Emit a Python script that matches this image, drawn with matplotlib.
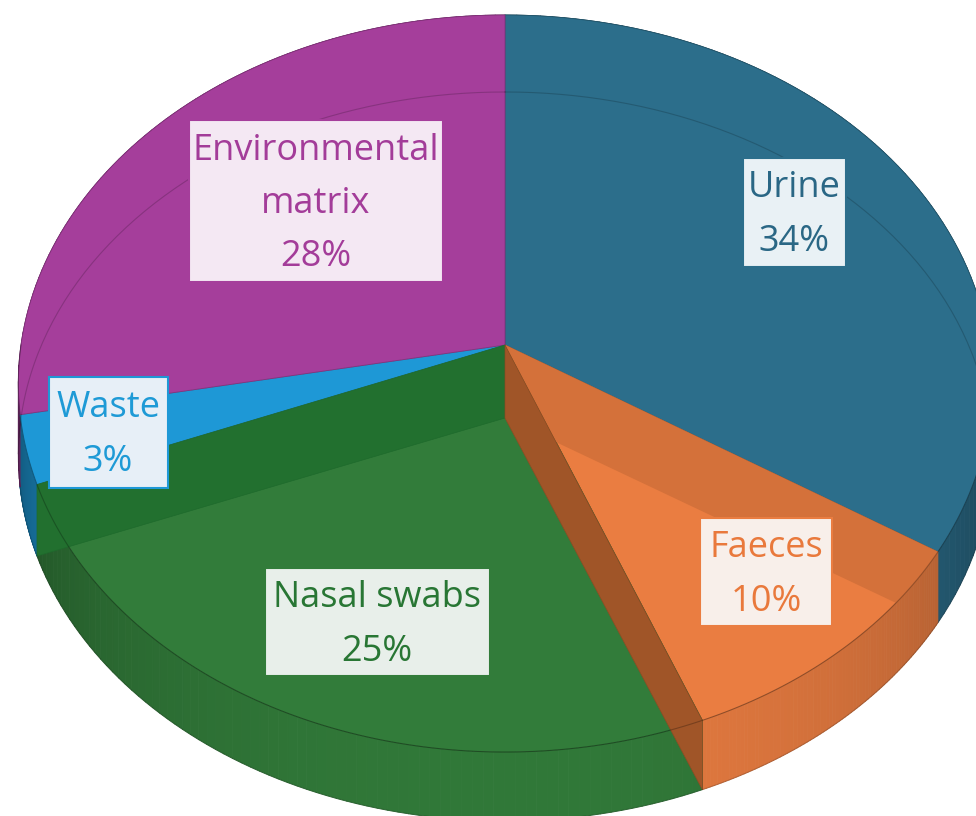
import numpy as np
import matplotlib.pyplot as plt
from matplotlib.patches import Polygon, Rectangle
from matplotlib.collections import PolyCollection
from matplotlib.colors import to_rgb

labels = ["Urine", "Faeces", "Nasal swabs", "Waste", "Environmental\nmatrix"]
values = [34, 10, 25, 3, 28]
colors = ["#2C6E8B", "#EA7D41", "#327C3A", "#1E98D6", "#A53E9B"]
text_colors = ["#2A6785", "#E9793C", "#287634", "#1E9AD6", "#A33C99"]
box_fills = ["#E9F1F5", "#F8EFEA", "#E8EFEA", "#E7EFF7", "#F4E8F3"]

# label layout (pixel centre, box size)
label_pos = [(794, 212), (766, 572), (377, 622), (108, 432), (316, 201)]
box_size = [(103, 109), (132, 108), (225, 108), (119, 111), (254, 162)]

# perspective disc
CX, CY = 505, 345
A, B, K = 484, 364.5, 0.1045
D0, D1 = 73, 4


def proj(t, down=0.0):
    u = np.sin(t)
    v = -np.cos(t)
    w = 1 - K * v
    return CX + A * u / w, CY + B * v / w + down * (D0 - D1 * v)


def shade(c, f):
    r, g, b = to_rgb(c)
    return (r * f, g * f, b * f)


fracs = np.array(values, dtype=float) / sum(values)
edges = np.concatenate([[0], np.cumsum(fracs)]) * 2 * np.pi

fig = plt.figure(figsize=(9.76, 8.16), dpi=100)
ax = fig.add_axes([0, 0, 1, 1])
ax.set_xlim(0, 976)
ax.set_ylim(816, 0)
ax.axis("off")

# outer side walls
quads, qcols = [], []
for i in range(len(values)):
    ts = np.linspace(edges[i], edges[i + 1], 80)
    for ta, tb in zip(ts[:-1], ts[1:]):
        xa, ya = proj(ta)
        xb, yb = proj(tb)
        xa2, ya2 = proj(ta, 1)
        xb2, yb2 = proj(tb, 1)
        quads.append([(xa, ya), (xb, yb), (xb2, yb2), (xa2, ya2)])
        tm = 0.5 * (ta + tb)
        f = 0.45 + 0.52 * max(0, -np.cos(tm)) ** 0.7
        qcols.append(shade(colors[i], f))
ax.add_collection(PolyCollection(quads, facecolors=qcols, edgecolors=qcols,
                                 linewidths=0.6, zorder=1))

# top surfaces
tops = []
for i in range(len(values)):
    ts = np.linspace(edges[i], edges[i + 1], 200)
    x, y = proj(ts)
    pts = [(CX, CY)] + list(zip(x, y))
    p = Polygon(pts, closed=True, facecolor=colors[i],
                edgecolor=shade(colors[i], 0.8), lw=0.6, zorder=2)
    ax.add_patch(p)
    tops.append(p)


def radial_wall(t):
    x1, y1 = proj(t)
    x2, y2 = proj(t, 1)
    return [(CX, CY), (x1, y1), (x2, y2), (CX, CY + D0)]


# radial walls seen through the tops
w1 = Polygon(radial_wall(edges[1]), facecolor="#D4713A", lw=0, zorder=3)
ax.add_patch(w1)
w1.set_clip_path(tops[1])
ax.add_patch(Polygon(radial_wall(edges[3]), facecolor="#22702F",
                     edgecolor="#1E6A2C", lw=0.5, zorder=3))
ax.add_patch(Polygon(radial_wall(edges[2]), facecolor="#A05528",
                     edgecolor="#8E4B22", lw=0.5, zorder=3.5))

# rim lines
ts = np.linspace(0, 2 * np.pi, 400)
bx, by = proj(ts, 1)
ax.plot(bx, by, color="k", lw=0.8, alpha=0.18, zorder=4)
tn = np.linspace(np.pi / 2, 3 * np.pi / 2, 200)
tx, ty = proj(tn)
ax.plot(tx, ty, color="k", lw=0.8, alpha=0.25, zorder=4)

# labels
for i, lab in enumerate(labels):
    cx, cy = label_pos[i]
    bw, bh = box_size[i]
    ax.add_patch(Rectangle((cx - bw / 2, cy - bh / 2), bw, bh,
                           facecolor=box_fills[i], edgecolor=colors[i],
                           lw=1.5, zorder=10))
    ax.text(cx, cy + 3, "%s\n%d%%" % (lab, values[i]), color=text_colors[i],
            ha="center", va="center", fontsize=26, family="Open Sans",
            linespacing=1.63, zorder=11)

fig.savefig("out.png", dpi=100)
